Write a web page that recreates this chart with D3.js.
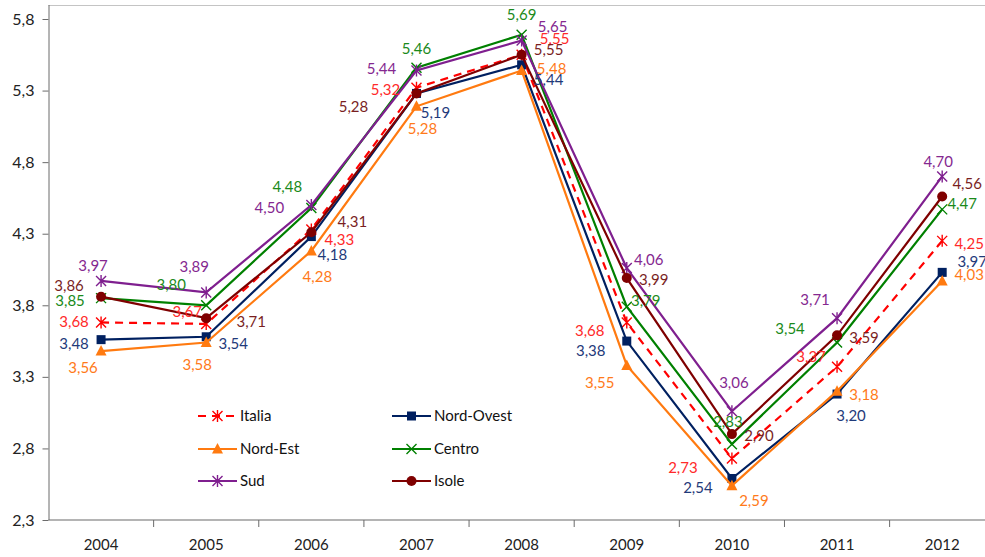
<!DOCTYPE html>
<html>
<head>
<meta charset="utf-8">
<script src="https://cdn.jsdelivr.net/npm/d3@7"></script>
<style>
  body { margin: 0; background: #fff; }
  svg text { font-family: Lato, "Open Sans", sans-serif; }
</style>
</head>
<body>
<script>
let w = 985;
let h = 557;

let years = ["2004", "2005", "2006", "2007", "2008", "2009", "2010", "2011", "2012"];
let yTicks = [2.3, 2.8, 3.3, 3.8, 4.3, 4.8, 5.3, 5.8];

let italia    = [3.68, 3.67, 4.33, 5.32, 5.55, 3.68, 2.73, 3.37, 4.25];
let nordOvest = [3.56, 3.58, 4.28, 5.28, 5.48, 3.55, 2.59, 3.18, 4.03];
let nordEst   = [3.48, 3.54, 4.18, 5.19, 5.44, 3.38, 2.54, 3.20, 3.97];
let centro    = [3.85, 3.80, 4.48, 5.46, 5.69, 3.79, 2.83, 3.54, 4.47];
let sud       = [3.97, 3.89, 4.50, 5.44, 5.65, 4.06, 3.06, 3.71, 4.70];
let isole     = [3.86, 3.71, 4.31, 5.28, 5.55, 3.99, 2.90, 3.59, 4.56];

// label offsets from each point (dx, dy), as placed in the original
let offsets = {
  "Italia":     [[-27,-1],[-19,-12],[28,10],[-31,2],[33,-16],[-37,8],[-49,9],[-26,-10],[27,3]],
  "Nord-Ovest": [[-27,4],[27,7],[21,18],[19,19],[27,15],[-36,10],[-34,9],[14,22],[30,-11]],
  "Nord-Est":   [[-18,17],[-9,22],[6,26],[6,22],[30,-2],[-27,17],[22,15],[27,4],[27,-6]],
  "Centro":     [[-31,3],[-35,-21],[-24,-21],[0,-19],[0,-20],[19,-6],[-4,-22],[-47,-14],[20,-6]],
  "Sud":        [[-8,-15],[-12,-26],[-42,3],[-35,-2],[31,-14],[22,-8],[2,-28],[-22,-18],[-4,-15]],
  "Isole":      [[-32,-11],[45,4],[41,-11],[-63,13],[27,-5],[27,2],[27,2],[27,2],[25,-13]]
};

// the printed labels of Nord-Ovest and Nord-Est are swapped in the original
let series = [
  { name: "Italia", values: italia, labels: italia, color: "#ff0000", text: "#ff2a2a", marker: "asterisk", dash: "8,6" },
  { name: "Nord-Ovest", values: nordOvest, labels: nordEst, color: "#002060", text: "#1f3a7a", marker: "square" },
  { name: "Nord-Est", values: nordEst, labels: nordOvest, color: "#ff7a10", text: "#ff7a1a", marker: "triangle" },
  { name: "Centro", values: centro, labels: centro, color: "#008000", text: "#1a8a1a", marker: "x" },
  { name: "Sud", values: sud, labels: sud, color: "#7f1f8f", text: "#852890", marker: "asterisk" },
  { name: "Isole", values: isole, labels: isole, color: "#7f0000", text: "#7a1f1f", marker: "circle" }
];

let plotLeft = 48.5, plotTop = 19, plotBottom = 520, step = 105.14;

let xScale = d3.scaleBand()
  .domain(years)
  .range([plotLeft, plotLeft + step * years.length]);

let yScale = d3.scaleLinear()
  .domain([2.3, 5.8])
  .range([plotBottom, plotTop]);

let svg = d3.select("body")
  .append("svg")
  .attr("width", w)
  .attr("height", h);

let fmt = v => d3.format(".2f")(v).replace(".", ",");
let cx = i => xScale(years[i]) + xScale.bandwidth() / 2;

// top border of the plot
svg.append("line")
  .attr("x1", plotLeft).attr("x2", w)
  .attr("y1", 5.5).attr("y2", 5.5)
  .attr("stroke", "#c4c4c4").attr("stroke-width", 1.2);

// y axis
let yAxis = svg.append("g")
  .attr("transform", "translate(" + plotLeft + ",0)")
  .call(d3.axisLeft(yScale).tickValues(yTicks).tickSize(6).tickSizeOuter(0)
    .tickFormat(d => d3.format(".1f")(d).replace(".", ",")));
yAxis.select(".domain").attr("stroke", "#6b6b6b").attr("d", "M0.5,5V" + plotBottom);
yAxis.selectAll(".tick line").attr("stroke", "#6b6b6b");
yAxis.selectAll(".tick text").attr("font-size", "16px").attr("fill", "#222").attr("x", -14);

// x axis
let xAxis = svg.append("g")
  .attr("transform", "translate(0," + plotBottom + ")");
xAxis.append("line")
  .attr("x1", plotLeft).attr("x2", w)
  .attr("stroke", "#6b6b6b").attr("stroke-width", 1.2);
xAxis.selectAll(".tk")
  .data(years.slice(1))
  .enter()
  .append("line")
  .attr("x1", d => xScale(d)).attr("x2", d => xScale(d))
  .attr("y1", 0).attr("y2", 7)
  .attr("stroke", "#6b6b6b");
xAxis.selectAll("text")
  .data(years)
  .enter()
  .append("text")
  .attr("x", d => xScale(d) + xScale.bandwidth() / 2)
  .attr("y", 30)
  .attr("text-anchor", "middle")
  .attr("font-size", "15px")
  .attr("fill", "#222")
  .text(d => d);

function drawMarker(g, type, color) {
  if (type === "square") {
    g.append("rect").attr("x", -4.5).attr("y", -4.5).attr("width", 9).attr("height", 9).attr("fill", color);
  } else if (type === "triangle") {
    g.append("path").attr("d", "M0,-6L5.5,4.5L-5.5,4.5Z").attr("fill", color);
  } else if (type === "circle") {
    g.append("circle").attr("r", 5).attr("fill", color);
  } else if (type === "x") {
    g.append("path").attr("d", "M-5,-5L5,5M-5,5L5,-5").attr("stroke", color).attr("stroke-width", 1.4).attr("fill", "none");
  } else {
    g.append("path").attr("d", "M-5,-5L5,5M-5,5L5,-5M0,-6V6").attr("stroke", color).attr("stroke-width", 1.4).attr("fill", "none");
  }
}

let line = d3.line()
  .x((_, i) => cx(i))
  .y(d => yScale(d));

series.forEach(function(s) {
  svg.append("path")
    .datum(s.values)
    .attr("d", line)
    .attr("fill", "none")
    .attr("stroke", s.color)
    .attr("stroke-width", 2.2)
    .attr("stroke-dasharray", s.dash || null);

  s.values.forEach(function(v, i) {
    let g = svg.append("g").attr("transform", "translate(" + cx(i) + "," + yScale(v) + ")");
    drawMarker(g, s.marker, s.color);
  });
});

series.forEach(function(s) {
  svg.append("g").selectAll("text")
    .data(s.values)
    .enter()
    .append("text")
    .attr("x", (d, i) => cx(i) + offsets[s.name][i][0])
    .attr("y", (d, i) => yScale(d) + offsets[s.name][i][1])
    .attr("dy", "0.35em")
    .attr("text-anchor", "middle")
    .attr("font-size", "15px")
    .attr("fill", s.text)
    .text((d, i) => fmt(s.labels[i]));
});

// legend
let legendPos = [[198, 416], [392, 416], [198, 449], [392, 449], [198, 481], [392, 481]];
series.forEach(function(s, i) {
  let p = legendPos[i];
  let g = svg.append("g").attr("transform", "translate(" + p[0] + "," + p[1] + ")");
  g.append("line")
    .attr("x1", 0).attr("x2", 39)
    .attr("stroke", s.color)
    .attr("stroke-width", 2.2)
    .attr("stroke-dasharray", s.dash || null);
  let m = g.append("g").attr("transform", "translate(19.5,0)");
  drawMarker(m, s.marker, s.color);
  g.append("text")
    .attr("x", 42)
    .attr("dy", "0.35em")
    .attr("font-size", "15px")
    .attr("fill", "#111")
    .text(s.name);
});
</script>
</body>
</html>
